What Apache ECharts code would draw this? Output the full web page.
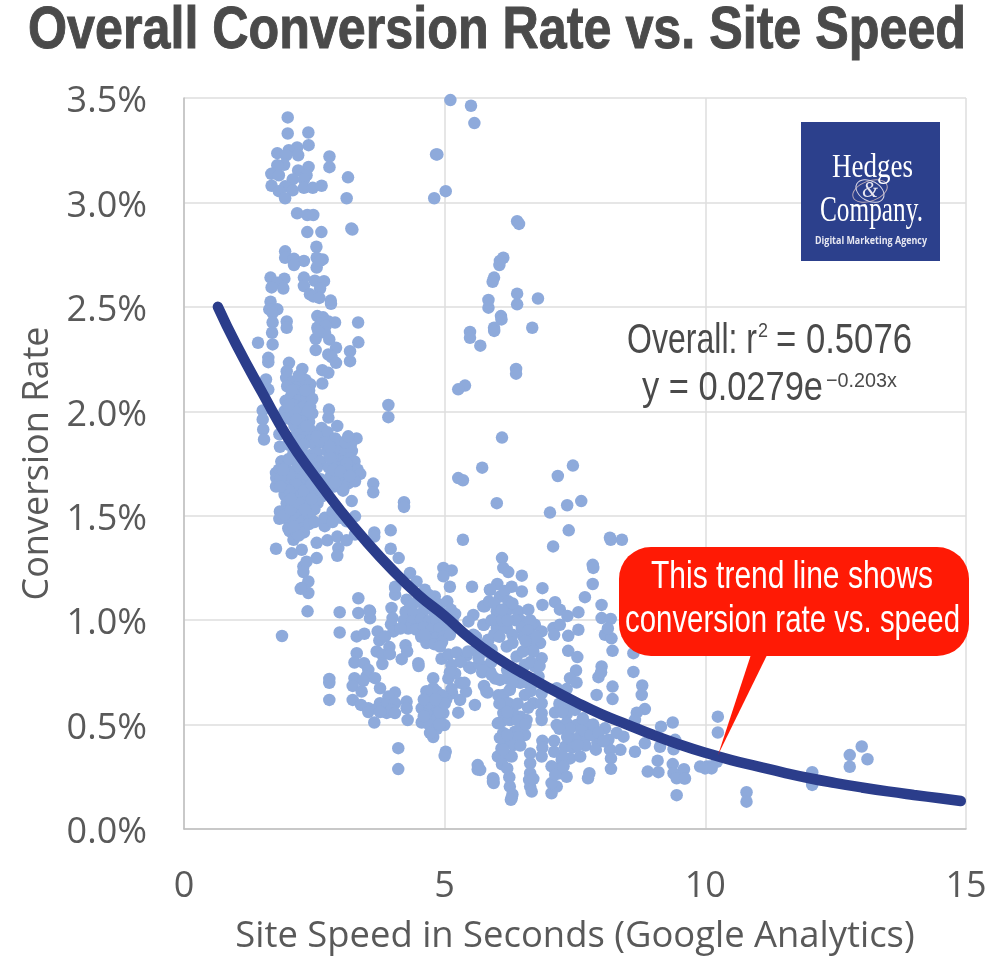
<!DOCTYPE html>
<html><head><meta charset="utf-8">
<style>html,body{margin:0;padding:0;background:#fff}#c{width:995px;height:960px}</style>
<script src="https://cdn.jsdelivr.net/npm/echarts@6/dist/echarts.min.js"></script>
</head><body><div id="c"></div>
<script>
const titleText = "Overall Conversion Rate vs. Site Speed";
const xAxisTitle = "Site Speed in Seconds (Google Analytics)";
const yAxisTitle = "Conversion Rate";
const trendSpeed = [0.65,1,1.5,2,2.5,3,3.5,4,4.5,5,5.5,6,6.5,7,7.5,8,8.5,9,9.5,10,10.5,11,11.5,12,12.5,13,13.5,14,14.5,14.9];
const trendRate = [2.50,2.32,2.09,1.87,1.69,1.525,1.375,1.24,1.12,1.02,.91,.82,.745,.675,.61,.55,.50,.45,.405,.365,.33,.30,.27,.243,.22,.199,.18,.163,.147,.134];

const topLeftGroup = [[1.99,3.407],[1.99,3.33],[2.385,3.335],[2.39,3.274],[2.17,3.263],[2.01,3.25],[1.79,3.236],[1.96,3.226],[2.19,3.226],[2.79,3.22],[2.79,3.169],[1.92,3.18],[1.79,3.178],[2.39,3.17],[2.19,3.153],[2.35,3.13],[1.675,3.137],[1.82,3.13],[3.146,3.12],[2.085,3.11],[2.30,3.11],[1.68,3.08],[1.94,3.077],[2.30,3.07],[2.47,3.07],[2.64,3.08],[2.085,3.058],[1.82,3.054],[1.94,3.02],[3.12,3.02],[2.17,2.948],[2.365,2.94],[2.48,2.94],[3.21,2.875],[3.23,2.87],[2.365,2.858],[2.635,2.858],[2.54,2.788],[1.94,2.766],[1.94,2.735],[2.11,2.73],[2.30,2.72],[2.545,2.735],[2.66,2.727],[2.11,2.70],[2.545,2.688],[2.61,2.72],[1.66,2.64],[1.925,2.635],[2.30,2.64],[2.51,2.625],[2.685,2.623],[1.79,2.616],[1.68,2.593],[1.905,2.588],[2.30,2.60],[2.61,2.588],[2.417,2.56],[2.48,2.55],[2.595,2.543],[2.814,2.53],[2.82,2.515],[1.66,2.525],[1.636,2.488],[1.79,2.488],[1.70,2.47],[1.70,2.425],[1.97,2.43],[1.97,2.40],[2.557,2.456],[2.667,2.45],[2.557,2.40],[2.77,2.43],[2.897,2.425],[2.62,2.42],[2.72,2.41],[3.34,2.425]];

const midLeftGroup = [[1.69,2.376],[1.42,2.328],[1.70,2.32],[1.617,2.256],[1.617,2.235],[2.014,2.232],[1.97,2.192],[2.27,2.203],[2.526,2.347],[2.787,2.344],[2.705,2.376],[2.576,2.384],[2.916,2.304],[3.344,2.33],[3.185,2.288],[3.185,2.24],[2.526,2.293],[2.768,2.272],[2.83,2.26],[2.916,2.232],[2.653,2.197],[2.768,2.184],[2.653,2.133],[1.573,2.152],[1.617,2.104],[1.51,2.004],[1.51,1.961],[1.52,1.913],[1.535,1.865],[1.96,2.16],[2.08,2.14],[2.22,2.13],[2.33,2.15],[2.42,2.13],[1.98,2.12],[2.14,2.10],[2.27,2.09],[2.40,2.10],[2.05,2.07],[2.2,2.05],[2.35,2.06],[2.46,2.06],[1.95,2.05],[2.1,2.03],[2.28,2.02],[2.42,2.02],[2.03,1.99],[1.93,2.0],[2.17,1.985],[2.33,1.98],[2.46,1.99],[2.05,1.96],[2.23,1.945],[2.4,1.95],[1.92,1.965],[2.12,1.93],[2.3,1.92],[2.43,1.91],[2.2,1.89],[2.36,1.885],[2.12,1.88],[2.25,1.86],[2.42,1.86],[2.5,1.84],[2.62,1.85],[2.72,1.87],[2.78,2.008],[2.77,1.97],[3.31,1.87],[2.64,1.92],[2.94,1.93],[2.75,1.9],[2.9,1.87],[2.55,1.88],[1.83,1.89],[1.84,1.83],[1.765,1.705],[1.874,1.76],[1.765,1.64],[3.92,2.03],[3.92,1.972]];

const denseLeftGroup = [[2.1,1.80],[2.25,1.81],[2.41,1.79],[2.55,1.80],[1.87,1.76],[2.0,1.77],[2.15,1.76],[2.3,1.75],[2.47,1.77],[2.62,1.76],[1.82,1.72],[1.95,1.73],[2.1,1.71],[2.27,1.72],[2.4,1.71],[2.55,1.73],[1.77,1.68],[1.92,1.685],[2.05,1.67],[2.2,1.68],[2.35,1.67],[2.5,1.69],[2.62,1.675],[1.95,1.64],[2.08,1.635],[2.25,1.645],[2.38,1.63],[2.55,1.64],[2.72,1.65],[1.93,1.60],[2.1,1.59],[2.2,1.605],[2.35,1.595],[2.5,1.605],[2.63,1.59],[1.97,1.56],[2.12,1.555],[2.28,1.565],[2.4,1.55],[2.56,1.56],[1.95,1.52],[2.12,1.525],[2.22,1.51],[2.37,1.52],[2.5,1.53],[2.0,1.48],[2.13,1.485],[2.28,1.475],[2.42,1.49],[1.84,1.52],[1.83,1.485],[1.93,1.505],[2.03,1.425],[2.1,1.385],[2.258,1.44],[2.15,1.42],[2.3,1.42],[2.7,1.45],[2.7,1.49],[2.85,1.52],[2.85,1.47],[2.0,1.44],[2.2,1.405]];

const denseRightGroup = [[2.7,1.85],[2.85,1.84],[3.0,1.85],[3.2,1.84],[2.75,1.81],[2.93,1.81],[3.08,1.80],[3.22,1.81],[2.95,1.77],[3.05,1.76],[3.18,1.775],[3.27,1.76],[2.78,1.73],[2.92,1.735],[3.05,1.72],[3.2,1.73],[3.33,1.72],[2.82,1.69],[2.95,1.685],[3.1,1.695],[3.25,1.68],[3.38,1.70],[3.0,1.66],[3.15,1.655],[3.28,1.665],[2.88,1.64],[3.05,1.62],[3.056,1.625],[3.217,1.57],[3.0,1.49],[3.12,1.473],[3.28,1.497],[3.28,1.41],[2.75,1.382],[2.94,1.40],[3.12,1.382],[2.96,1.345],[2.94,1.308],[2.545,1.37],[2.545,1.297],[2.258,1.337],[2.066,1.32],[1.765,1.342],[3.63,1.654],[3.63,1.612],[4.22,1.565],[4.22,1.542],[3.965,1.43],[3.65,1.42],[3.65,1.40],[3.965,1.342],[4.118,1.297]];

const columnGroup = [[2.29,1.257],[2.35,1.28],[2.29,1.23],[2.385,1.185],[2.258,1.154],[2.385,1.13],[2.24,1.15],[2.37,1.042],[1.88,.924],[2.986,1.038],[3.344,1.105],[3.344,1.034],[3.568,1.042],[3.568,1.009],[2.986,.941],[3.313,.922],[3.46,.935],[3.555,1.046]];

const lowerLeftGroup = [[3.98,1.058],[4.05,1.154],[4.05,1.122],[4.0,1.01],[3.97,.98],[4.017,.946],[3.715,.946],[3.747,.903],[3.856,.922],[3.94,.871],[3.696,.85],[3.805,.834],[3.95,.837],[3.805,.79],[3.313,.842],[3.27,.797],[3.453,.794],[3.535,.762],[3.50,.73],[3.664,.722],[3.27,.722],[3.44,.71],[3.236,.685],[3.408,.658],[2.787,.718],[2.787,.70],[2.787,.618],[3.236,.618],[3.76,.674],[4.047,.653],[3.92,.634],[3.395,.594],[3.535,.578],[3.535,.56],[3.76,.602],[3.888,.594],[4.047,.602],[3.7,.575],[3.888,.556],[3.98,.57],[4.047,.555],[3.76,.56],[4.27,.61],[4.27,.578],[4.29,.522],[3.65,.51],[4.11,.387],[4.11,.287],[4.176,.813],[4.495,.794],[4.5,.78],[4.78,.722],[4.78,.674],[4.72,.64],[4.847,.658],[4.655,.61],[4.91,.618],[4.56,.578],[4.72,.575],[4.85,.585],[4.975,.555],[4.56,.51],[4.78,.522],[4.65,.55],[4.85,.53],[4.78,.475],[4.78,.44],[4.993,.498],[5.02,.37],[5.0,.35],[5.634,.306],[5.634,.285],[5.927,.243],[5.927,.225],[5.14,.65],[5.295,.618],[5.58,.594],[5.26,.557],[5.41,.658],[5.755,.685],[5.825,.653],[5.03,.62],[4.25,.88],[4.28,.85]];

const curveGroup = [[4.335,1.226],[4.05,1.16],[4.46,1.185],[4.62,1.146],[4.27,1.098],[4.81,1.113],[4.34,1.066],[4.975,1.25],[5.135,1.238],[4.975,1.21],[5.1,1.16],[5.525,1.16],[5.87,1.145],[5.74,1.066],[5.55,1.025],[5.456,.994],[5.74,.978],[5.84,.905],[4.5,1.12],[4.7,1.12],[4.4,1.08],[4.55,1.085],[4.75,1.08],[4.9,1.075],[5.05,1.09],[4.25,1.04],[4.4,1.035],[4.6,1.045],[4.8,1.04],[4.95,1.035],[5.12,1.05],[5.2,1.03],[4.22,1.0],[4.38,.995],[4.55,1.005],[4.7,.995],[4.85,1.0],[5.0,.99],[5.15,1.0],[4.3,.96],[4.45,.955],[4.6,.965],[4.75,.955],[4.9,.96],[5.05,.95],[5.2,.965],[4.55,.92],[4.68,.925],[4.82,.915],[4.98,.92],[5.1,.93],[4.65,.89],[4.8,.885],[4.95,.895],[4.91,.874],[4.62,.93],[4.15,.96],[4.94,.815],[5.07,.835],[5.23,.845],[5.42,.83],[5.47,.775],[5.13,.785],[5.07,.72],[5.3,.80],[5.3,.70],[5.13,.67],[5.5,.77],[5.38,.70],[5.2,.745],[5.45,.85],[5.1,.75],[5.74,.778],[5.87,.754],[5.97,.72],[6.03,.64],[5.72,.75],[5.66,.79],[5.9,.80],[5.6,.86]];

const centerGroup = [[6.1,1.297],[6.125,1.25],[6.22,1.23],[6.48,1.213],[7.84,1.265],[7.85,1.25],[7.84,1.173],[6.875,1.153],[7.69,1.11],[6.01,1.173],[5.87,1.146],[6.48,1.137],[6.285,1.16],[6.06,1.113],[6.15,1.14],[6.22,1.09],[6.875,1.073],[7.117,1.086],[8.01,1.073],[5.77,1.066],[6.0,1.042],[6.22,1.05],[6.41,1.042],[6.606,1.05],[7.21,1.05],[7.355,1.02],[7.565,1.038],[8.01,1.01],[8.185,1.006],[5.755,.978],[6.0,.962],[6.19,.962],[6.45,1.0],[6.48,.962],[6.73,.978],[6.86,.946],[7.085,.962],[7.21,.978],[7.565,.954],[7.37,.925],[8.075,.93],[8.2,.913],[8.13,.96],[7.1,.93],[5.84,.906],[6.51,.922],[6.64,1.0],[6.64,.93],[6.83,.89],[6.64,.874],[6.19,.874],[7.37,.853],[7.545,.823],[8.22,.853],[8.62,.842],[6.86,.818],[8.01,.778],[8.62,.752],[7.95,.727],[8.0,.75],[7.52,.759],[7.405,.722],[7.53,.701],[8.22,.682],[7.915,.642],[8.22,.622],[8.79,.687],[8.78,.642],[8.84,.574],[8.685,.557],[8.65,.522],[7.117,.558],[7.15,.498],[7.34,.55],[7.34,.507],[6.86,.554],[6.86,.522],[7.53,.498],[7.755,.498],[8.075,.482],[9.15,.49],[9.375,.51],[7.1,.422],[6.875,.422],[6.875,.39],[6.86,.347],[6.64,.362],[6.125,.427],[6.06,.347],[6.285,.347],[6.32,.402],[7.31,.394],[7.6,.442],[7.7,.44],[7.93,.414],[8.14,.427],[8.17,.38],[8.37,.379],[8.19,.338],[8.19,.288],[8.65,.37],[8.84,.41],[9.13,.394],[9.42,.427],[9.39,.382],[9.085,.327],[8.895,.275],[9.1,.272],[9.375,.311],[9.59,.286],[9.39,.267],[9.59,.243],[9.45,.243],[9.45,.162],[9.61,.242],[10.03,.299],[9.9,.299],[10.09,.299],[10.22,.322],[8.43,.442],[7.4,.48],[7.62,.47],[7.8,.45],[7.5,.43],[7.7,.40],[7.9,.38],[7.45,.39]];

const blockGroup = [[5.74,.76],[5.9,.738],[6.06,.714],[5.8,.658],[6.125,.642],[6.25,.666],[6.22,.602],[6.125,.555],[6.09,.514],[6.25,.522],[6.45,.538],[6.57,.522],[6.54,.45],[6.35,.466],[6.125,.46],[6.285,.41],[6.09,.386],[6.25,.35],[6.38,.826],[6.54,.786],[6.73,.778],[6.8,.73],[6.54,.642],[6.7,.602],[6.86,.602],[6.86,.65],[7.15,.674],[7.34,.67],[6.35,.75],[6.2,.76],[6.45,.70],[6.3,.56],[6.45,.47],[6.4,.6],[6.02,.506],[6.06,.436],[6.02,.347],[6.6,.7],[6.65,.66]];

const lowTailGroup = [[5.68,.283],[5.935,.238],[5.94,.22],[6.24,.248],[6.25,.203],[6.285,.147],[6.3,.165],[6.27,.14],[6.64,.315],[6.64,.267],[6.64,.203],[6.67,.179],[7.05,.171],[7.15,.203],[7.05,.22],[7.21,.267],[7.34,.25],[7.245,.33],[7.17,.29],[7.405,.338],[7.6,.347],[7.775,.267],[7.75,.243],[6.62,.235]];

const upperMiddleGroup = [[5.11,3.49],[5.505,3.463],[5.57,3.38],[4.835,3.23],[4.86,3.23],[5.02,3.054],[4.80,3.02],[6.39,2.91],[6.426,2.897],[6.125,2.735],[6.06,2.72],[6.05,2.70],[5.947,2.64],[5.92,2.62],[6.39,2.563],[6.79,2.54],[5.84,2.533],[6.39,2.512],[5.84,2.496],[6.08,2.456],[6.09,2.44],[5.947,2.4],[5.95,2.385],[6.68,2.40],[5.486,2.38],[5.486,2.352],[5.684,2.314],[6.37,2.203],[6.37,2.18],[5.39,2.123],[5.26,2.105],[6.1,1.874],[5.72,1.73],[5.26,1.68],[5.35,1.67],[6.0,1.56],[7.46,1.74],[7.17,1.69],[7.62,1.57],[7.35,1.55],[7.02,1.515],[7.38,1.43],[5.35,1.385],[8.17,1.395],[8.4,1.385],[7.08,1.353],[8.185,1.385]];

const farTailGroup = [[10.24,.538],[10.24,.462],[9.995,.29],[10.12,.29],[10.79,.176],[10.79,.131],[12.05,.272],[12.05,.211],[12.77,.354],[13.0,.395],[13.11,.334],[12.77,.298]];

const packedGroup = [[4.65,.66],[4.7,.60],[4.6,.62],[4.9,.56],[4.95,.64],[4.7,.5],[4.85,.48],[4.6,.54],[4.9,.5],[4.72,.46],[5.0,.6],[4.82,.62],[5.6,.92],[5.7,.88],[5.8,.85],[5.55,.93],[5.65,.82],[5.9,.86],[5.95,.93],[5.9,1.0],[6.1,1.0],[6.05,.92],[6.3,.93],[6.35,1.0],[6.3,.89],[6.2,1.0],[5.85,1.09],[5.95,1.08],[6.1,1.05],[6.3,1.08],[6.6,.95],[6.75,.92],[6.7,.85],[6.5,.85],[6.55,.9],[6.72,.7],[6.65,.8],[6.82,.78],[6.2,.72],[6.3,.7],[6.05,.6],[6.2,.56],[6.4,.52],[6.6,.58],[6.4,.44],[6.2,.45],[6.45,.4],[6.12,.38],[6.55,.5],[7.2,.6],[7.25,.56],[7.4,.6],[7.5,.57],[7.65,.53],[7.2,.48],[7.35,.44],[7.55,.4],[7.25,.35],[7.1,.37],[7.85,.5],[7.95,.46],[8.05,.42],[8.3,.46],[7.05,.3],[7.12,.26],[7.28,.3],[6.7,.24],[6.1,.31],[6.2,.29],[2.03,1.77],[2.18,1.73],[2.33,1.7],[2.45,1.74],[2.02,1.7],[2.15,1.65],[2.3,1.62],[2.45,1.65],[2.02,1.62],[2.05,1.53],[2.2,1.56],[2.32,1.53],[2.45,1.58],[2.05,1.58],[2.4,1.46],[2.5,1.47],[2.1,1.45],[1.85,1.68],[1.85,1.64],[1.9,1.72],[2.0,1.84],[2.15,1.85],[2.3,1.84],[2.85,1.78],[2.8,1.78],[3.12,1.75],[2.87,1.72],[3.12,1.72],[3.0,1.71],[3.18,1.69],[2.9,1.66],[3.1,1.85],[2.8,1.83],[3.15,1.88],[2.07,2.1],[2.2,2.17],[2.33,2.1],[2.13,2.0],[2.0,2.03],[2.38,2.0],[2.27,1.95],[2.15,1.96],[2.35,1.93]];

const allPoints = [].concat(topLeftGroup, midLeftGroup, denseLeftGroup, denseRightGroup, columnGroup, lowerLeftGroup, curveGroup, centerGroup, blockGroup, lowTailGroup, upperMiddleGroup, farTailGroup, packedGroup);
const trendPoints = trendSpeed.map((s, i) => [s, trendRate[i]]);

const SANS_L = '"Liberation Sans",sans-serif';
const SANS = '"Open Sans",sans-serif';
const SERIF = '"Liberation Serif",serif';
const measure = document.createElement('canvas').getContext('2d');
// Text squeezed horizontally so it fills the width it has in the picture.
function fit(left, right, y, text, font, fill, stroke) {
  measure.font = font;
  const w = measure.measureText(text).width;
  const style = {text, font, fill, textAlign:'left', textVerticalAlign:'middle'};
  if (stroke) { style.stroke = fill; style.lineWidth = stroke; }
  return {type:'text', x:left, y, scaleX:(right-left)/w, z:20, style};
}
const chart = echarts.init(document.getElementById('c'));
chart.setOption({
  animation:false,
  backgroundColor:'#fff',
  grid:{left:184,right:29,top:98,bottom:131,containLabel:false,outerBoundsMode:'none'},
  xAxis:{type:'value',min:0,max:15,interval:5,name:xAxisTitle,nameLocation:'middle',nameGap:90,
    nameTextStyle:{fontFamily:SANS,fontSize:36.4,color:'#595959'},
    axisLine:{onZero:false,lineStyle:{color:'#bfbfbf',width:1.5}},axisTick:{show:false},
    axisLabel:{fontFamily:SANS,fontSize:36,color:'#595959',margin:40},
    splitLine:{show:true,lineStyle:{color:'#dedede',width:1.5}}},
  yAxis:{type:'value',min:0,max:3.5,interval:0.5,name:yAxisTitle,nameLocation:'middle',nameGap:128,
    nameTextStyle:{fontFamily:SANS,fontSize:36,color:'#595959'},
    axisLine:{show:true,lineStyle:{color:'#bfbfbf',width:1.5}},axisTick:{show:false},
    axisLabel:{fontFamily:SANS,fontSize:36,color:'#595959',margin:37,verticalAlign:'top',lineHeight:8,formatter:v=>v.toFixed(1)+'%'},
    splitLine:{show:true,lineStyle:{color:'#dedede',width:1.5}}},
  series:[
    {type:'scatter',data:allPoints,symbolSize:12.5,itemStyle:{color:'#8eaadb',opacity:1},z:2,silent:true},
    {type:'line',data:trendPoints,smooth:true,showSymbol:false,symbol:'none',z:3,silent:true,
      lineStyle:{color:'#2b3d8b',width:10.5,cap:'round'}}
  ],
  graphic:[
    fit(28,966,31,titleText,'bold 60px '+SANS_L,'#4a4a4a',1),
    {type:'polygon',z:10,shape:{points:[[752.5,650],[769.5,650],[718,755]]},style:{fill:'#ff1a05'}},
    {type:'rect',z:10,shape:{x:619,y:547,width:350,height:109,r:32},style:{fill:'#ff1a05'}},
    fit(651,933,577,'This trend line shows','39px '+SANS_L,'#fff'),
    fit(625,960,621,'conversion rate vs. speed','39px '+SANS_L,'#fff'),
    {type:'rect',z:10,shape:{x:801,y:122,width:139,height:139},style:{fill:'#2c408c'}},
    {type:'ellipse',z:15,x:870,y:191,rotation:0.35,shape:{cx:0,cy:0,rx:18,ry:10},style:{fill:'none',stroke:'#b9a9b8',lineWidth:1}},
    {type:'ellipse',z:15,x:870,y:191,rotation:-0.5,shape:{cx:0,cy:0,rx:15,ry:10},style:{fill:'none',stroke:'#d8d6e6',lineWidth:1}},
    fit(862,878,191,'&','italic 24px '+SERIF,'#e8e6f0'),
    fit(832,913,168,'Hedges','34px '+SERIF,'#fff'),
    fit(820,923,212,'Company.','36px '+SERIF,'#fff'),
    fit(815,927,241,'Digital Marketing Agency','bold 10.5px '+SANS,'#e8e8f2'),
    fit(627,757,341,'Overall: r','42px '+SANS_L,'#4a4a4a'),
    fit(758,768,331,'2','21px '+SANS_L,'#4a4a4a'),
    fit(776,912,341,'= 0.5076','42px '+SANS_L,'#4a4a4a'),
    fit(642,823,389,'y = 0.0279e','40px '+SANS_L,'#4a4a4a'),
    fit(826,897,381,'−0.203x','21px '+SANS_L,'#4a4a4a')
  ]
});
</script></body></html>
